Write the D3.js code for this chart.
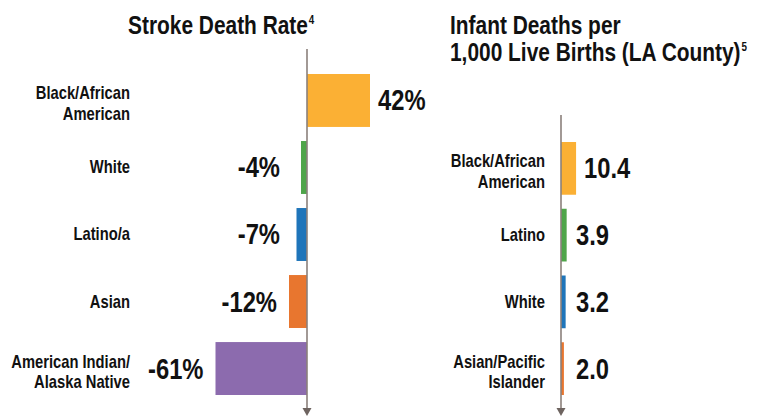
<!DOCTYPE html>
<html>
<head>
<meta charset="utf-8">
<script src="https://cdn.jsdelivr.net/npm/d3@7"></script>
<style>
  html, body { margin: 0; padding: 0; background: #fff; }
  svg { display: block; }
  text { font-family: "Liberation Sans", Arial, sans-serif; font-weight: bold; fill: #111; }
</style>
</head>
<body>
<svg id="chart"></svg>
<script>
const YELLOW = '#fbb034';
const GREEN =  '#4fa54a';
const BLUE =   '#1f75ba';
const ORANGE = '#e8762f';
const PURPLE = '#8c6bae';
const AXIS =   '#8b807b';
const NARROW = 0.82;   // squeeze Liberation Sans to an Arial Narrow look

// Stroke death rate, % difference
const strokeGroups = [['Black/African', 'American'], ['White'], ['Latino/a'], ['Asian'], ['American Indian/', 'Alaska Native']];
const strokeValues = [42, -4, -7, -12, -61];
const strokeLabels = ['42%', '-4%', '-7%', '-12%', '-61%'];
const strokeColors = [YELLOW, GREEN, BLUE, ORANGE, PURPLE];

// Infant deaths per 1,000 live births
const infantGroups = [['Black/African', 'American'], ['Latino'], ['White'], ['Asian/Pacific', 'Islander']];
const infantValues = [10.4, 3.9, 3.2, 2.0];
const infantLabels = ['10.4', '3.9', '3.2', '2.0'];
const infantColors = [YELLOW, GREEN, BLUE, ORANGE];

const width = 759;
const height = 417;

const svg = d3.select('#chart')
    .attr('width', width)
    .attr('height', height)
    .attr('viewBox', [0, 0, width, height]);

// horizontal squeeze around the anchor x
function squeeze(ax) {
    return `translate(${ax},0) scale(${NARROW},1) translate(${-ax},0)`;
}

/**
 * Draws one panel: horizontal bars around a vertical zero axis.
 */
function drawPanel(opts) {
    const g = svg.append('g');
    const idx = d3.range(opts.values.length);

    const x = d3.scaleLinear().domain(opts.domain).range(opts.xRange);
    const y = d3.scaleBand().domain(idx).range(opts.yRange).paddingInner(0.21).paddingOuter(0);
    const x0 = x(0);

    // bars
    g.selectAll('rect')
        .data(idx)
        .join('rect')
        .attr('x', i => Math.min(x(opts.values[i]), x0))
        .attr('y', i => y(i))
        .attr('width', i => Math.abs(x(opts.values[i]) - x0))
        .attr('height', y.bandwidth())
        .attr('fill', i => opts.colors[i]);

    // zero axis with arrow
    g.append('line')
        .attr('x1', x0).attr('x2', x0)
        .attr('y1', opts.axisTop).attr('y2', 410)
        .attr('stroke', AXIS)
        .attr('stroke-width', 1.6);
    g.append('path')
        .attr('d', `M${x0 - 4.5},408 L${x0 + 4.5},408 L${x0},416 Z`)
        .attr('fill', '#6e6460');

    // category labels
    const cat = g.selectAll('text.cat')
        .data(idx)
        .join('text')
        .attr('class', 'cat')
        .attr('text-anchor', 'end')
        .attr('transform', squeeze(opts.catX))
        .style('font-size', '18px');
    cat.each(function(i) {
        const lines = opts.groups[i];
        const c = y(i) + y.bandwidth() / 2;
        const first = lines.length === 1 ? c + 6 : c - 1;
        d3.select(this).selectAll('tspan')
            .data(lines)
            .join('tspan')
            .attr('x', opts.catX)
            .attr('y', (d, k) => first + k * 20.5)
            .text(d => d);
    });

    // value labels
    const valX = i => {
        const v = opts.values[i];
        if (v < 0) return Math.min(x(v) - 12, x0 - 27);
        return Math.max(x(v) + 8, x0 + 15);
    };
    g.selectAll('text.val')
        .data(idx)
        .join('text')
        .attr('class', 'val')
        .style('font-size', '29px')
        .attr('text-anchor', i => opts.values[i] < 0 ? 'end' : 'start')
        .attr('x', valX)
        .attr('transform', i => squeeze(valX(i)))
        .attr('y', i => y(i) + y.bandwidth() / 2 + 10)
        .text(i => opts.labels[i]);
}

drawPanel({
    values: strokeValues, labels: strokeLabels, groups: strokeGroups, colors: strokeColors,
    domain: [-70, 50], xRange: [307 - 105, 307 + 75],
    yRange: [74, 395], axisTop: 49, catX: 130
});

drawPanel({
    values: infantValues, labels: infantLabels, groups: infantGroups, colors: infantColors,
    domain: [0, 12], xRange: [561, 561 + 17.4],
    yRange: [142, 395], axisTop: 115, catX: 545
});

// titles
const t1 = svg.append('text').attr('x', 128).attr('y', 34)
    .attr('transform', squeeze(128)).style('font-size', '25.5px');
t1.append('tspan').text('Stroke Death Rate');
t1.append('tspan').attr('dy', -10).attr('dx', 1).style('font-size', '12px').text('4');

const t2 = svg.append('text').attr('x', 450)
    .attr('transform', squeeze(450)).style('font-size', '25.5px');
t2.append('tspan').attr('x', 450).attr('y', 34).text('Infant Deaths per');
t2.append('tspan').attr('x', 450).attr('y', 61).text('1,000 Live Births (LA County)');
t2.append('tspan').attr('dy', -10).attr('dx', 1).style('font-size', '12px').text('5');
</script>
</body>
</html>
